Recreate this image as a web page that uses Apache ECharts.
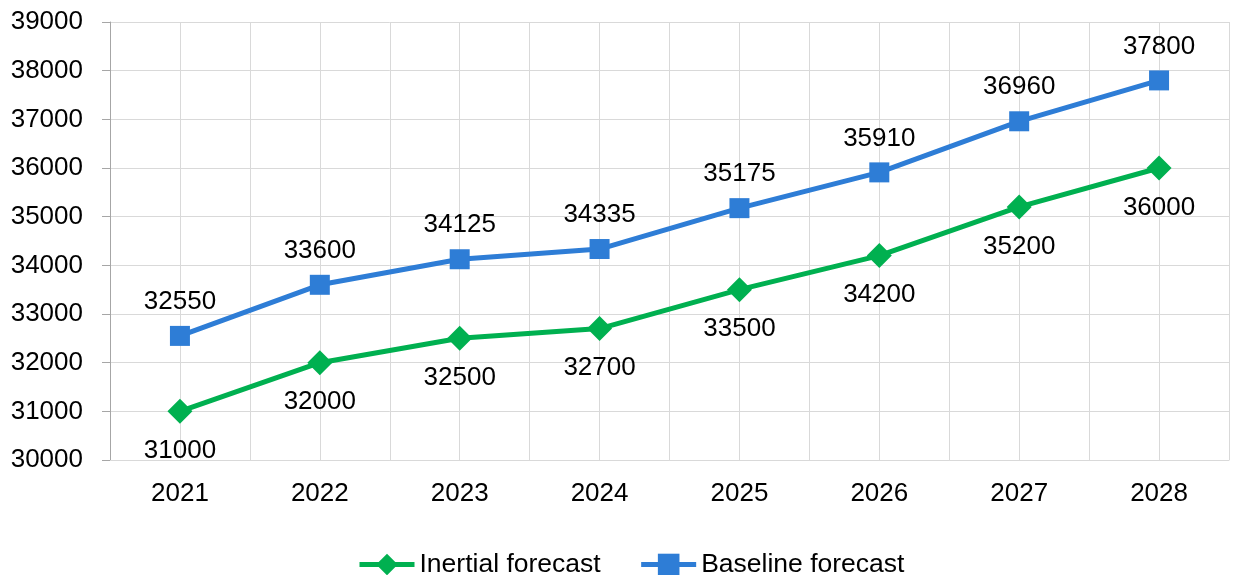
<!DOCTYPE html>
<html>
<head>
<meta charset="utf-8">
<script src="https://cdn.jsdelivr.net/npm/echarts@6/dist/echarts.min.js"></script>
<style>html,body{margin:0;padding:0;background:#fff}#c{width:1233px;height:575px}</style>
</head>
<body>
<div id="c"></div>
<script>
const categories = ['2021','2022','2023','2024','2025','2026','2027','2028'];
const inertialForecast = [31000, 32000, 32500, 32700, 33500, 34200, 35200, 36000];
const baselineForecast = [32550, 33600, 34125, 34335, 35175, 35910, 36960, 37800];
const seriesNames = ['Inertial forecast', 'Baseline forecast'];
const yMin = 30000, yMax = 39000, yStep = 1000;

const FONT = '"Liberation Sans", Arial, sans-serif';
const FS = 26;
const chart = echarts.init(document.getElementById('c'), null, {renderer: 'canvas'});
chart.setOption({
  animation: false,
  backgroundColor: '#fff',
  grid: {left: 110, right: 4, top: 22, bottom: 115, containLabel: false},
  legend: {
    top: 546,
    left: 352,
    itemWidth: 55,
    itemHeight: 27,
    itemGap: 38,
    lineStyle: {width: 5},
    textStyle: {fontFamily: FONT, fontSize: 26.5, color: '#000', padding: [0,0,0,0]},
    data: seriesNames
  },
  xAxis: [{
    type: 'category',
    data: categories,
    boundaryGap: true,
    axisLine: {show: true, lineStyle: {color: '#D9D9D9', width: 1}},
    axisTick: {show: false},
    splitLine: {show: false},
    axisLabel: {fontFamily: FONT, fontSize: FS, color: '#000', margin: 21}
  }, {
    type: 'value',
    min: 0, max: categories.length * 2, interval: 1,
    position: 'bottom',
    axisLine: {show: false},
    axisTick: {show: false},
    axisLabel: {show: false},
    splitLine: {show: true, lineStyle: {color: '#D9D9D9', width: 1}}
  }],
  yAxis: {
    type: 'value',
    min: yMin, max: yMax, interval: yStep,
    axisLine: {show: true, lineStyle: {color: '#A6A6A6', width: 1}},
    axisTick: {show: true, length: 8, lineStyle: {color: '#A6A6A6'}},
    splitLine: {show: true, lineStyle: {color: '#D9D9D9', width: 1}},
    axisLabel: {fontFamily: FONT, fontSize: FS, color: '#000', margin: 27, formatter: v => String(v)}
  },
  series: [{
    name: seriesNames[0],
    type: 'line',
    data: inertialForecast,
    xAxisIndex: 0,
    symbol: 'diamond',
    symbolSize: 25,
    lineStyle: {color: '#00B050', width: 5},
    itemStyle: {color: '#00B050'},
    label: {show: true, position: 'bottom', distance: 14, fontFamily: FONT, fontSize: FS, color: '#000'}
  }, {
    name: seriesNames[1],
    type: 'line',
    data: baselineForecast,
    xAxisIndex: 0,
    symbol: 'rect',
    symbolSize: 20,
    lineStyle: {color: '#2E7DD6', width: 5},
    itemStyle: {color: '#2E7DD6'},
    label: {show: true, position: 'top', distance: 11, fontFamily: FONT, fontSize: FS, color: '#000'}
  }]
});
</script>
</body>
</html>
